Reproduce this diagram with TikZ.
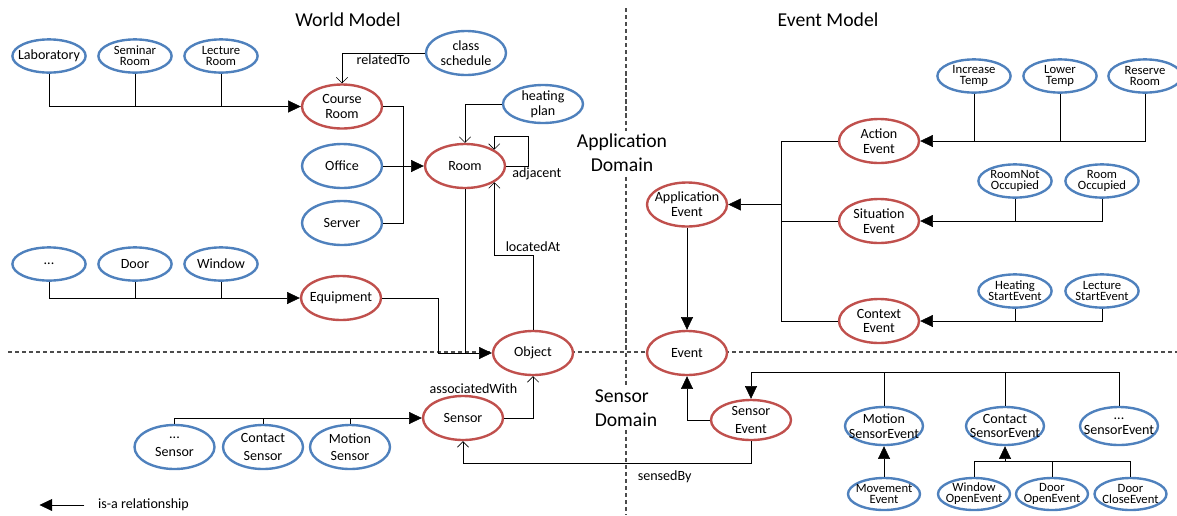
\documentclass[tikz,border=0pt]{standalone}
\usepackage{fontspec}
\setmainfont{Carlito}
\usetikzlibrary{shapes.geometric,arrows.meta}
\definecolor{ored}{RGB}{192,80,77}
\definecolor{oblue}{RGB}{79,129,189}
\tikzset{line width=1.2pt, font=\fontsize{10}{10.5}\selectfont}
\tikzstyle{classnode} = [ellipse, draw=ored, fill=white, line width=1.7pt, minimum width=2cm, minimum height=1.1cm, inner xsep=-20pt, inner ysep=-20pt, align=center]
\tikzstyle{subnode} = [ellipse, draw=oblue, fill=white, line width=1.7pt, minimum width=1.83cm, minimum height=0.83cm, inner xsep=-20pt, inner ysep=-20pt, align=center]
\tikzstyle{bigsize} = [minimum width=2cm, minimum height=1.1cm]
\tikzstyle{midsize} = [minimum width=1.95cm, minimum height=0.95cm]
\tikzstyle{smalltext} = [font=\fontsize{9}{7.9}\selectfont]
\tikzstyle{heading} = [font=\fontsize{14}{17}\selectfont, align=center, inner sep=2pt]
\tikzstyle{lbl} = [inner sep=1pt]
\tikzstyle{isa} = [-{Triangle[length=9pt,width=8.5pt]}]
\tikzstyle{rel} = [-{Straight Barb[length=4pt,width=8pt]}]
\tikzstyle{divider} = [line width=0.8pt, black!70, dash pattern=on 3pt off 2pt]

\begin{document}
\begin{tikzpicture}[x=0.025cm, y=-0.025cm]
    \useasboundingbox (0,0) rectangle (1177,515);
    % domain borders
    \draw [divider] (626,8) -- (626,515);
    \draw [divider] (8,352) -- (1177,352);

    \node [heading] (wm) at (348,20) {World Model};
    \node [heading] (em) at (828,20) {Event Model};
    \node [heading, fill=white] (ad) at (622,153) {Application\\Domain};
    \node [heading, fill=white, align=left] (sd) at (626,408) {Sensor\\Domain};

    % world model
    \node [subnode] (lab) at (49,56) {Laboratory};
    \node [subnode, smalltext] (sem) at (135,56) {Seminar\\Room};
    \node [subnode, smalltext] (lec) at (221,56) {Lecture\\Room};
    \node [classnode] (course) at (342,106.5) {Course\\Room};
    \node [subnode, bigsize] (sched) at (466,53) {class\\schedule};
    \node [subnode, bigsize, minimum height=0.95cm] (heat) at (543,104) {heating\\plan};
    \node [subnode, bigsize] (off) at (342,166) {Office};
    \node [subnode, bigsize] (srv) at (342,223) {Server};
    \node [classnode] (room) at (465,166) {Room};
    \node [subnode] (dots) at (49,264) {...};
    \node [subnode] (door) at (135,264) {Door};
    \node [subnode] (win) at (221,264) {Window};
    \node [classnode] (equip) at (341,298) {Equipment};
    \node [classnode] (obj) at (533,353) {Object};
    \node [classnode] (sens) at (463,418) {Sensor};
    \node [subnode, bigsize] (dsens) at (174.5,447) {...\\[2pt]Sensor};
    \node [subnode, bigsize] (csens) at (263,447) {Contact\\[2pt]Sensor};
    \node [subnode, bigsize] (msens) at (350,447) {Motion\\[2pt]Sensor};

    % event model
    \node [classnode] (app) at (687,204.5) {Application\\Event};
    \node [classnode] (evt) at (687,353) {Event};
    \node [classnode] (act) at (879,141) {Action\\Event};
    \node [classnode] (sit) at (879,221) {Situation\\Event};
    \node [classnode] (ctx) at (879,321) {Context\\Event};
    \node [subnode, smalltext] (inc) at (974,76) {Increase\\Temp};
    \node [subnode, smalltext] (low) at (1060,76) {Lower\\Temp};
    \node [subnode, smalltext] (rres) at (1145,76) {Reserve\\Room};
    \node [subnode, smalltext] (rnot) at (1015,181) {RoomNot\\Occupied};
    \node [subnode, smalltext] (rocc) at (1102,181) {Room\\Occupied};
    \node [subnode, smalltext] (hsta) at (1015,291) {Heating\\StartEvent};
    \node [subnode, smalltext] (lsta) at (1102,291) {Lecture\\StartEvent};
    \node [classnode, minimum height=1cm] (sevt) at (751,420) {Sensor\\[2pt]Event};
    \node [subnode, midsize] (msevt) at (884,426) {Motion\\SensorEvent};
    \node [subnode, midsize] (csevt) at (1005,426) {Contact\\SensorEvent};
    \node [subnode, midsize] (dsevt) at (1119,426) {...\\SensorEvent};
    \node [subnode, smalltext, minimum width=1.8cm, minimum height=0.8cm] (move) at (884,494) {Movement\\Event};
    \node [subnode, smalltext, minimum width=1.8cm, minimum height=0.8cm] (wopen) at (974,494) {Window\\OpenEvent};
    \node [subnode, smalltext, minimum width=1.8cm, minimum height=0.8cm] (dopen) at (1052,494) {Door\\OpenEvent};
    \node [subnode, smalltext, minimum width=1.8cm, minimum height=0.8cm] (dclose) at (1130.5,494) {Door\\CloseEvent};

    \node [lbl] (legend) at (143.5,505) {is-a relationship};

    % world model links
    \draw [isa] (lab.south) |- (course.west);
    \draw (sem.south) -- (sem |- course.west);
    \draw (lec.south) -- (lec |- course.west);
    \draw [rel] (sched.west) -| node [lbl, pos=0.25, below] {relatedTo} (course.north);
    \draw (course.east) -- ++(20,0) |- (srv.east);
    \draw [isa] (off.east) -- (room.west);
    \draw [rel] (heat.west) -| (room.north);
    \draw [rel] (room.east) -- node [lbl, pos=0.2, below right] {adjacent} ++(22,0) -- ++(0,-30) -- ++(-34,0) coordinate (loop) -- (loop |- room.29);
    \draw [rel] (obj.north) -- ++(0,-75) node [lbl, above, yshift=1pt] {locatedAt} -| (room.-29);
    \draw [isa] (dots.south) |- (equip.west);
    \draw (door.south) -- (door |- equip.west);
    \draw (win.south) -- (win |- equip.west);
    \draw [isa] (equip.east) -- ++(56,0) |- (obj.west);
    \draw (room.south) -- (room.south |- obj.west);
    \draw [isa] (dsens.north) |- (sens.west);
    \draw (csens.north) -- (csens |- sens.west);
    \draw (msens.north) -- (msens |- sens.west);
    \draw [rel] (sens.east) -| node [lbl, pos=0.85, left=0.35cm] {associatedWith} (obj.south);

    % event model links
    \draw (act.west) -- ++(-57,0) coordinate (bt);
    \draw (ctx.west) -- ++(-57,0) coordinate (bb);
    \draw (bt) -- (bb);
    \draw (sit.west) -- (sit.west -| bt);
    \draw [isa] (bt |- app.east) -- (app.east);
    \draw [isa] (rres.south) |- (act.east);
    \draw (inc.south) -- (inc |- act.east);
    \draw (low.south) -- (low |- act.east);
    \draw [isa] (rocc.south) |- (sit.east);
    \draw (rnot.south) -- (rnot |- sit.east);
    \draw [isa] (lsta.south) |- (ctx.east);
    \draw (hsta.south) -- (hsta |- ctx.east);
    \draw [isa] (app.south) -- (evt.north);

    % sensor domain links
    \draw [isa] (sevt.west) -| (evt.south);
    \draw [isa] (dsevt.north) -- ++(0,-34) -| (sevt.north);
    \draw (msevt.north) -- ++(0,-34);
    \draw (csevt.north) -- ++(0,-34);
    \draw [isa] (move.north) -- (msevt.south);
    \draw (wopen.north) -- ++(0,-16) coordinate (cbus) -| (dclose.north);
    \draw (dopen.north) -- (dopen.north |- cbus);
    \draw [isa] (cbus -| csevt.south) -- (csevt.south);
    \draw [rel] (sevt.south) -- ++(0,22) -| node [lbl, pos=0.15, below=4pt] {sensedBy} (sens.south);

    \draw [isa] ([xshift=-0.3cm]legend.west) -- ++(-45,0);
\end{tikzpicture}
\end{document}
